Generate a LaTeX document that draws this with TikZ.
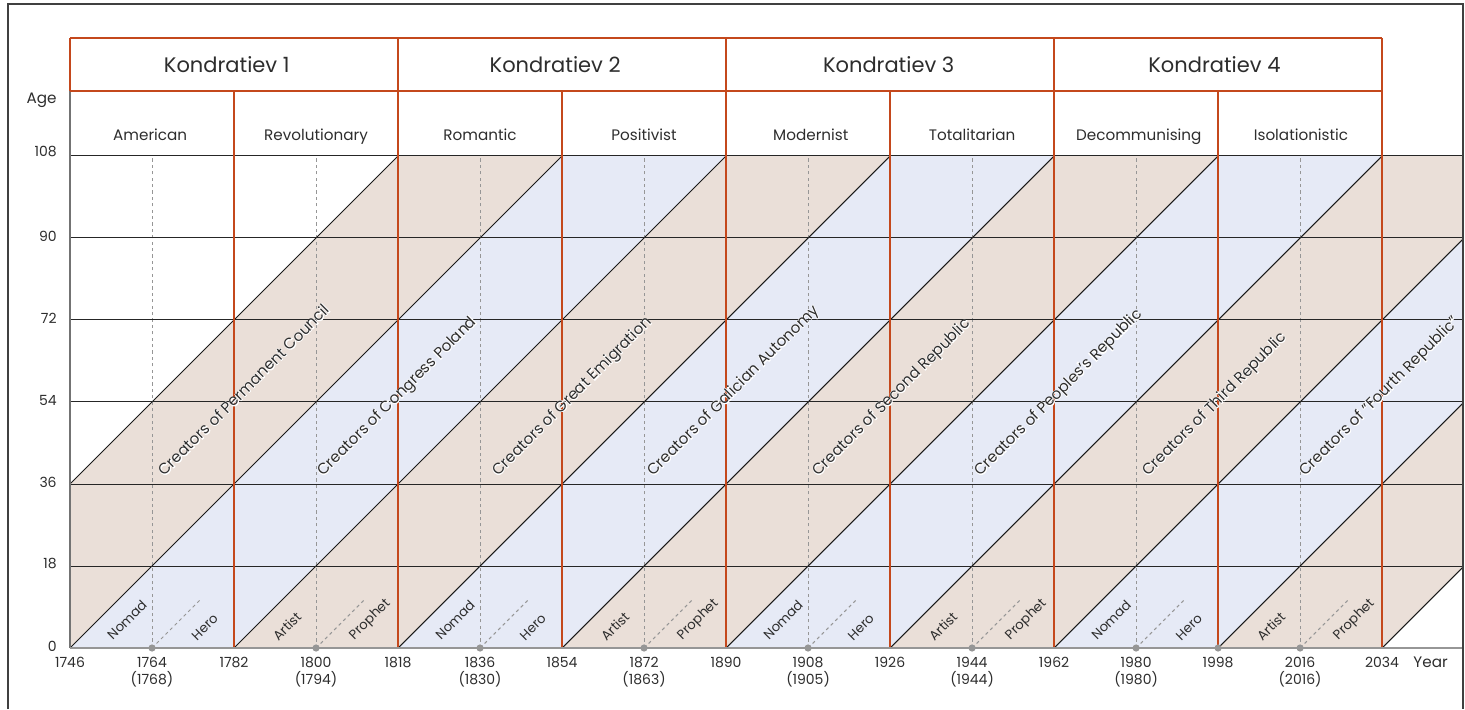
\documentclass[tikz,border=0pt]{standalone}
\usepackage{fontspec}
\setmainfont{Poppins}
\newfontfamily\halofont[FakeBold=8]{Poppins}
\definecolor{kbrown}{RGB}{234,223,216}
\definecolor{kblue}{RGB}{230,234,246}
\definecolor{korange}{RGB}{196,72,28}
\definecolor{ktext}{RGB}{45,45,45}
\definecolor{kgray}{RGB}{150,150,150}
\tikzset{
  oline/.style={draw=korange,line width=1.25pt},
  hline/.style={draw=black!85,line width=0.5pt},
  diag/.style={draw=black!90,line width=0.5pt},
  midline/.style={draw=kgray,line width=0.5pt,dash pattern=on 1.6pt off 1.6pt},
  axisline/.style={draw=kgray,line width=1pt},
  edgeline/.style={draw=black!55,line width=0.7pt},
  frameline/.style={draw=black!75,line width=0.8pt},
  ktitle/.style={font=\fontsize{10.5pt}{12pt}\selectfont,text=ktext,anchor=base,inner sep=0pt},
  gtitle/.style={font=\fontsize{7.6pt}{9pt}\selectfont,text=ktext,anchor=base,inner sep=0pt},
  numlbl/.style={font=\fontsize{7pt}{8pt}\selectfont,text=ktext,inner sep=0pt},
  creator/.style={font=\fontsize{7.6pt}{9pt}\selectfont,text=ktext,rotate=45,anchor=base west,inner sep=0pt},
  creatorhalo/.style={font=\fontsize{7.6pt}{9pt}\halofont,text=white,rotate=45,anchor=base west,inner sep=0pt},
  rolelbl/.style={font=\fontsize{6.6pt}{8pt}\selectfont,text=ktext,rotate=45,anchor=center,inner sep=0pt},
}
\newcommand\halolabel[3]{%
  \node[creatorhalo] (#1h) at #2 {#3};
  \node[creator] (#1) at #2 {#3};}
\begin{document}
\begin{tikzpicture}[x=2.2778pt,y=2.2778pt]
\useasboundingbox (-15.37,-13.39) rectangle (306.2,142.24);
\def\R{305.8}
% shaded cohort strips
\begin{scope}
\clip (0,0) rectangle (\R,108);
\foreach \d/\c in {-36/kbrown,0/kblue,36/kbrown,72/kblue,108/kbrown,144/kblue,180/kbrown,216/kblue,252/kbrown}
  \fill[\c] (\d,0) -- ({\d+36},0) -- ({\d+144},108) -- ({\d+108},108) -- cycle;
\foreach \m in {18,54,...,270} \draw[midline] (\m,0) -- (\m,108);
\foreach \d in {-36,0,...,288} \draw[diag] (\d,0) -- ({\d+108},108);
\end{scope}
% horizontal grid
\foreach \a in {18,36,...,108} \draw[hline] (0,\a) -- (\R,\a);
% short dashed diagonals
\foreach \m in {18,54,...,270} \draw[midline] (\m,0) -- ({\m+10.5},10.5);
% left edge
\draw[edgeline] (0,0) -- (0,122.27);
% orange structure
\foreach \g in {36,72,...,288} \draw[oline] (\g,0) -- (\g,122.27);
\foreach \k in {0,72,...,288} \draw[oline] (\k,122.27) -- (\k,133.9);
\draw[oline] (0,133.9) -- (288,133.9);
\draw[oline] (0,122.27) -- (288,122.27);
% axis
\draw[axisline] (0,0) -- (\R,0);
\foreach \m in {18,54,...,270,252} \fill[kgray] (\m,0) circle (1.8pt);
% frame
\draw[frameline] (-13.6,-13.39) -- (-13.6,141.4) -- (\R,141.4) -- (\R,-13.39);
% Kondratiev titles
\foreach \i/\t in {1/34.4,2/106.5,3/179.7,4/251.2}
  \node[ktitle] (k\i) at (\t,126.33) {Kondratiev \i};
% generation titles
\foreach \n/\t/\s in {g1/17.6/American,g2/54/Revolutionary,g3/90/Romantic,g4/126/Positivist,g5/162.6/Modernist,g6/198/Totalitarian,g7/234.6/Decommunising,g8/270.2/Isolationistic}
  \node[gtitle] (\n) at (\t,111.4) {\s};
% age axis
\node[numlbl,anchor=base east,font=\fontsize{7.6pt}{9pt}\selectfont] (agelbl) at (-2.85,119.5) {Age};
\node[numlbl,anchor=east] (a108) at (-2.85,108.9) {108};
\foreach \a in {90,72,54,36,18}
  \node[numlbl,anchor=east] (a\a) at (-2.85,{\a+0.45}) {\a};
\node[numlbl,anchor=east] (a0) at (-2.85,0.45) {0};
% year axis
\foreach \t/\y in {0/1746,36/1782,72/1818,108/1854,144/1890,180/1926,216/1962,252/1998,288/2034}
  \node[numlbl,anchor=base] (y\y) at (\t,-4.2) {\y};
\foreach \t/\y/\z in {18/1764/1768,54/1800/1794,90/1836/1830,126/1872/1863,162/1908/1905,198/1944/1944,234/1980/1980,270/2016/2016}{
  \node[numlbl,anchor=base] (y\y) at (\t,-4.2) {\y};
  \node[numlbl,anchor=base] (p\y) at (\t,-7.9) {(\z)};}
\node[numlbl,anchor=base west,font=\fontsize{7.6pt}{9pt}\selectfont] (yearlbl) at (294.8,-4.2) {Year};
% role labels
\foreach \g in {0,72,144,216}{
  \node[rolelbl] (nomad\g) at ({\g+12.5},6.2) {Nomad};
  \node[rolelbl] (hero\g) at ({\g+29.6},4.6) {Hero};}
\foreach \g in {36,108,180,252}{
  \node[rolelbl] (artist\g) at ({\g+11.6},4.8) {Artist};
  \node[rolelbl] (prophet\g) at ({\g+29.9},6.2) {Prophet};}
% creator labels
\halolabel{c1}{(20.7,37.5)}{Creators of Permanent Council}
\halolabel{c2}{(55.5,37.5)}{Creators of Congress Poland}
\halolabel{c3}{(93.9,37.5)}{Creators of Great Emigration}
\halolabel{c4}{(128,37.5)}{Creators of Galician Autonomy}
\halolabel{c5}{(164.2,37.5)}{Creators of Second Republic}
\halolabel{c6}{(199.8,37.5)}{Creators of Peoples's Republic}
\halolabel{c7}{(236.6,37.5)}{Creators of Third Republic}
\halolabel{c8}{(271.1,37.5)}{Creators of ”Fourth Republic”}
\end{tikzpicture}
\end{document}
